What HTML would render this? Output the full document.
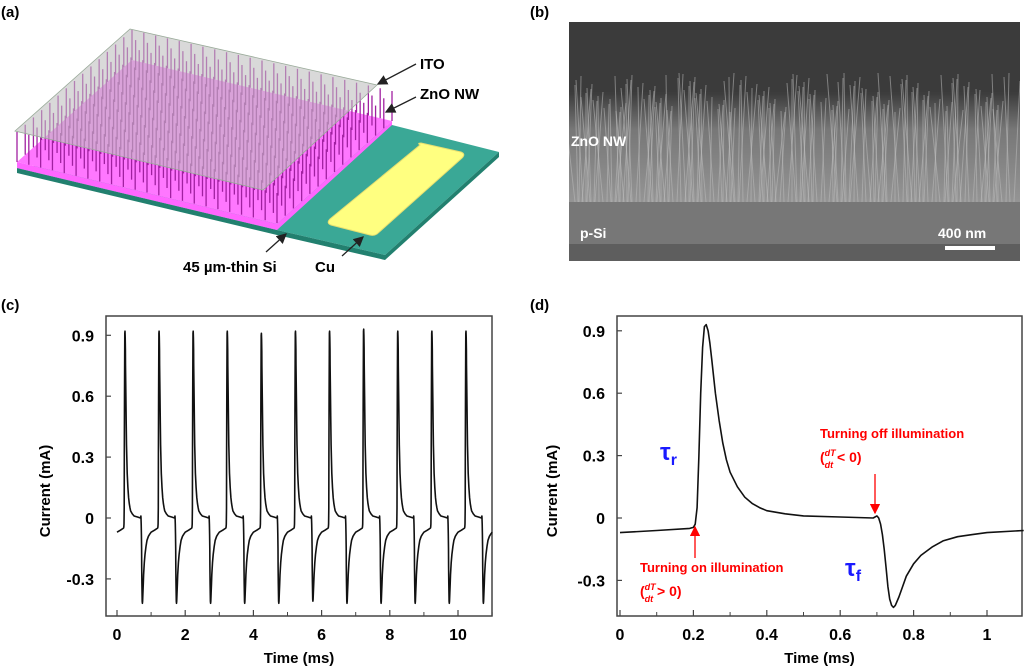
<!DOCTYPE html>
<html><head><meta charset="utf-8"><style>
body{margin:0;background:#fff;width:1024px;height:669px;overflow:hidden;font-family:"Liberation Sans",Arial,sans-serif}
svg{position:absolute;left:0;top:0}
text{font-family:"Liberation Sans",Arial,sans-serif;font-weight:bold}
</style></head><body>
<svg id="fig" width="1024" height="669" viewBox="0 0 1024 669">
<defs>
<marker id="ah" markerWidth="8" markerHeight="8" refX="7" refY="4" orient="auto"><path d="M0,0 L8,4 L0,8 z" fill="#222"/></marker>
<marker id="ahr" markerWidth="8" markerHeight="8" refX="7" refY="4" orient="auto"><path d="M0,0 L8,4 L0,8 z" fill="#f00"/></marker>
<linearGradient id="semg" x1="0" y1="0" x2="0" y2="1"><stop offset="0" stop-color="#3a3a3a"/><stop offset="0.3" stop-color="#3d3d3d"/><stop offset="0.45" stop-color="#777"/><stop offset="0.8" stop-color="#999"/><stop offset="0.81" stop-color="#666"/><stop offset="1" stop-color="#5a5a5a"/></linearGradient>
<clipPath id="semclip"><rect x="569" y="22" width="451" height="239"/></clipPath>
</defs>
<text x="1" y="17" font-size="15">(a)</text>
<text x="530" y="17" font-size="15">(b)</text>
<text x="1" y="310" font-size="15">(c)</text>
<text x="530" y="310" font-size="15">(d)</text>

<g>
<polygon points="17,168 277,230 385,255 499,152 392,125 17,168" fill="#3aa896"/>
<polygon points="17,168 277,230 385,255 385,260 277,235 17,173" fill="#22806f"/>
<polygon points="385,255 499,152 499,157 385,260" fill="#22806f"/>
<polygon points="17,162 277,224 392,121 392,125 277,230 17,168" fill="#ff66ff"/>
<polygon points="17,162 277,224 392,121 132,60" fill="#ff77ff"/>
<g id="wires"></g>
<polygon points="130,29 377,85 263,190 15,131" fill="#c0c0c0" fill-opacity="0.6" stroke="#9a9" stroke-width="0.8"/>
<path d="M420,145 Q417,143 421,143 L461,152 Q466,154 462,158 L377,234 Q374,236 370,235 L331,225 Q326,223 330,219 Z" fill="#ffff80" stroke="#e8e070"/>
<text x="420" y="69" font-size="15">ITO</text>
<line x1="416" y1="64" x2="378" y2="84" stroke="#222" stroke-width="1.3" marker-end="url(#ah)"/>
<text x="420" y="99" font-size="15">ZnO NW</text>
<line x1="416" y1="97" x2="386" y2="112" stroke="#222" stroke-width="1.3" marker-end="url(#ah)"/>
<text x="183" y="272" font-size="15">45 µm-thin Si</text>
<line x1="266" y1="252" x2="286" y2="234" stroke="#222" stroke-width="1.3" marker-end="url(#ah)"/>
<text x="315" y="272" font-size="15">Cu</text>
<line x1="342" y1="256" x2="363" y2="237" stroke="#222" stroke-width="1.3" marker-end="url(#ah)"/>
</g>

<g>
<rect x="569" y="22" width="451" height="239" fill="url(#semg)"/>
<rect x="569" y="22" width="451" height="70" fill="#3b3b3b"/>
<g id="semwires" clip-path="url(#semclip)"></g>
<rect x="569" y="202" width="451" height="42" fill="#777"/>
<rect x="569" y="244" width="451" height="17" fill="#5e5e5e"/>
<text x="571" y="146" font-size="14" fill="#fff">ZnO NW</text>
<text x="580" y="238" font-size="14" fill="#fff">p-Si</text>
<text x="938" y="238" font-size="14" fill="#fff">400 nm</text>
<rect x="945" y="246" width="50" height="4" fill="#fff"/>
</g>

<g id="chartC"></g>
<g id="chartD"></g>

<g>
<text x="660" y="460" font-size="24" fill="#1a1aff" font-family="Liberation Serif">τ<tspan font-size="16" dy="5">r</tspan></text>
<text x="845" y="576" font-size="24" fill="#1a1aff" font-family="Liberation Serif">τ<tspan font-size="16" dy="5">f</tspan></text>
<text x="820" y="438" font-size="13" fill="#f00">Turning off illumination</text>
<text x="820" y="462" font-size="14" fill="#f00" font-weight="normal">(<tspan font-size="9" font-style="italic" dy="-6">dT</tspan><tspan font-size="9" font-style="italic" dx="-11" dy="12">dt</tspan><tspan dy="-6"> &lt; 0)</tspan></text>
<line x1="875" y1="474" x2="875" y2="513" stroke="#f00" stroke-width="1.3" marker-end="url(#ahr)"/>
<text x="640" y="572" font-size="13" fill="#f00">Turning on illumination</text>
<text x="640" y="596" font-size="14" fill="#f00" font-weight="normal">(<tspan font-size="9" font-style="italic" dy="-6">dT</tspan><tspan font-size="9" font-style="italic" dx="-11" dy="12">dt</tspan><tspan dy="-6"> &gt; 0)</tspan></text>
<line x1="695" y1="558" x2="695" y2="527" stroke="#f00" stroke-width="1.3" marker-end="url(#ahr)"/>
</g>
</svg>
<script>
const pulseT = [0,0.1,0.19,0.2,0.205,0.21,0.215,0.22,0.225,0.23,0.235,0.24,0.245,0.25,0.26,0.27,0.28,0.29,0.3,0.32,0.34,0.36,0.38,0.4,0.45,0.5,0.6,0.69,0.7,0.705,0.71,0.715,0.72,0.725,0.73,0.735,0.74,0.745,0.75,0.76,0.77,0.78,0.8,0.82,0.85,0.88,0.92,0.96,1.0,1.1];
const pulseI = [-0.07,-0.06,-0.05,-0.045,-0.03,0.05,0.3,0.6,0.82,0.92,0.93,0.9,0.84,0.76,0.6,0.47,0.36,0.28,0.22,0.15,0.1,0.07,0.05,0.035,0.02,0.01,0.005,0.0,0.01,0.0,-0.03,-0.08,-0.15,-0.24,-0.33,-0.39,-0.42,-0.43,-0.42,-0.38,-0.33,-0.28,-0.22,-0.18,-0.14,-0.11,-0.09,-0.08,-0.07,-0.06];
const cycleStarts = [0,1,2,3,4,5,6,7,8,9,10];
const cyclePeaks = [0.92,0.92,0.92,0.92,0.91,0.92,0.92,0.93,0.92,0.92,0.92];
const cycleTroughs = [-0.42,-0.42,-0.42,-0.42,-0.42,-0.41,-0.42,-0.42,-0.42,-0.42,-0.42];
const yTicks = [-0.3,0,0.3,0.6,0.9];
const yTickLabels = ["-0.3","0","0.3","0.6","0.9"];
const xTicksC = [0,2,4,6,8,10];
const xTicksD = [0,0.2,0.4,0.6,0.8,1];
const xTickLabelsD = ["0","0.2","0.4","0.6","0.8","1"];

const NS="http://www.w3.org/2000/svg";
function mk(tag,attrs,parent){const e=document.createElementNS(NS,tag);for(const k in attrs)e.setAttribute(k,attrs[k]);parent.appendChild(e);return e;}

(function(){
 const g=document.getElementById('wires');
 const A=[132,60],B=[392,121],C=[17,162];
 for(let i=0;i<=22;i++)for(let j=0;j<=14;j++){
  const u=i/22,v=j/14;
  const x=A[0]+(B[0]-A[0])*u+(C[0]-A[0])*v, y=A[1]+(B[1]-A[1])*u+(C[1]-A[1])*v;
  mk('line',{x1:x,y1:y,x2:x,y2:y-30,stroke:'#a020a0','stroke-width':1.3},g);
 }
 const s=document.getElementById('semwires');
 for(let i=0;i<170;i++){
  const x=575+((i*37)%440), h=90+((i*53)%40), d=((i*29)%21)-10;
  mk('line',{x1:x,y1:202,x2:x+d,y2:202-h,stroke:'#bbb','stroke-width':1,'stroke-opacity':0.55},s);
 }
})();

function drawAxes(g,L,R,T,B,xs,ys,xticks,xlabels,minor,labX){
 const frame=mk('rect',{x:L,y:T,width:R-L,height:B-T,fill:'none',stroke:'#444','stroke-width':1.5},g);
 
 
 yTicks.forEach((v,i)=>{
  const y=ys(v);
  mk('line',{x1:L,y1:y,x2:L+5,y2:y,stroke:'#444','stroke-width':1.2},g);
  const t=mk('text',{x:L-12,y:y+6,'font-size':16,'text-anchor':'end'},g);
  t.textContent=yTickLabels[i];
  
  
 });
 xticks.forEach((v,i)=>{
  const x=xs(v);
  mk('line',{x1:x,y1:B,x2:x,y2:B-6,stroke:'#444','stroke-width':1.2},g);
  const t=mk('text',{x:x,y:B+24,'font-size':16,'text-anchor':'middle'},g);
  t.textContent=xlabels[i];
  
  
 });
 minor.forEach(v=>mk('line',{x1:xs(v),y1:B,x2:xs(v),y2:B-4,stroke:'#444','stroke-width':1},g));
 const xt=mk('text',{x:(L+R)/2,y:B+47,'font-size':15,'text-anchor':'middle'},g);
 xt.textContent='Time (ms)';
 
 
 const cy=(T+B)/2+25;
 const yt=mk('text',{x:labX,y:cy,'font-size':15,'text-anchor':'middle',transform:`rotate(-90 ${labX} ${cy})`},g);
 yt.textContent='Current (mA)';
 
 
}

(function(){
 const g=document.getElementById('chartC');
 const L=106,R=492,T=316,B=616;
 const xs=t=>117+t*34.1, ys=v=>518-v*203;
 drawAxes(g,L,R,T,B,xs,ys,xTicksC,xTicksC.map(String),[1,3,5,7,9,11],50);
 let d='';
 cycleStarts.forEach((s,k)=>{
  pulseT.forEach((t,i)=>{
   if(t>=1.0 && k<cycleStarts.length-1)return;
   const tt=s+t; if(tt>11)return;
   let v=pulseI[i];
   if(v>0.5)v=v/0.93*cyclePeaks[k];
   if(v<-0.3)v=v/0.43*-cycleTroughs[k];
   d+=(d?'L':'M')+xs(tt).toFixed(1)+','+ys(v).toFixed(1);
  });
 });
 const p=mk('path',{d:d,fill:'none',stroke:'#111','stroke-width':1.6,'stroke-linejoin':'round'},g);
 
 
})();

(function(){
 const g=document.getElementById('chartD');
 const L=617,R=1022,T=316,B=616;
 const xs=t=>620+t*367, ys=v=>518-v*208;
 drawAxes(g,L,R,T,B,xs,ys,xTicksD,xTickLabelsD,[0.1,0.3,0.5,0.7,0.9],557);
 let d='';
 pulseT.forEach((t,i)=>{d+=(d?'L':'M')+xs(t).toFixed(1)+','+ys(pulseI[i]).toFixed(1);});
 const p=mk('path',{d:d,fill:'none',stroke:'#111','stroke-width':1.6,'stroke-linejoin':'round'},g);
 
 
})();
</script>
</body></html>
